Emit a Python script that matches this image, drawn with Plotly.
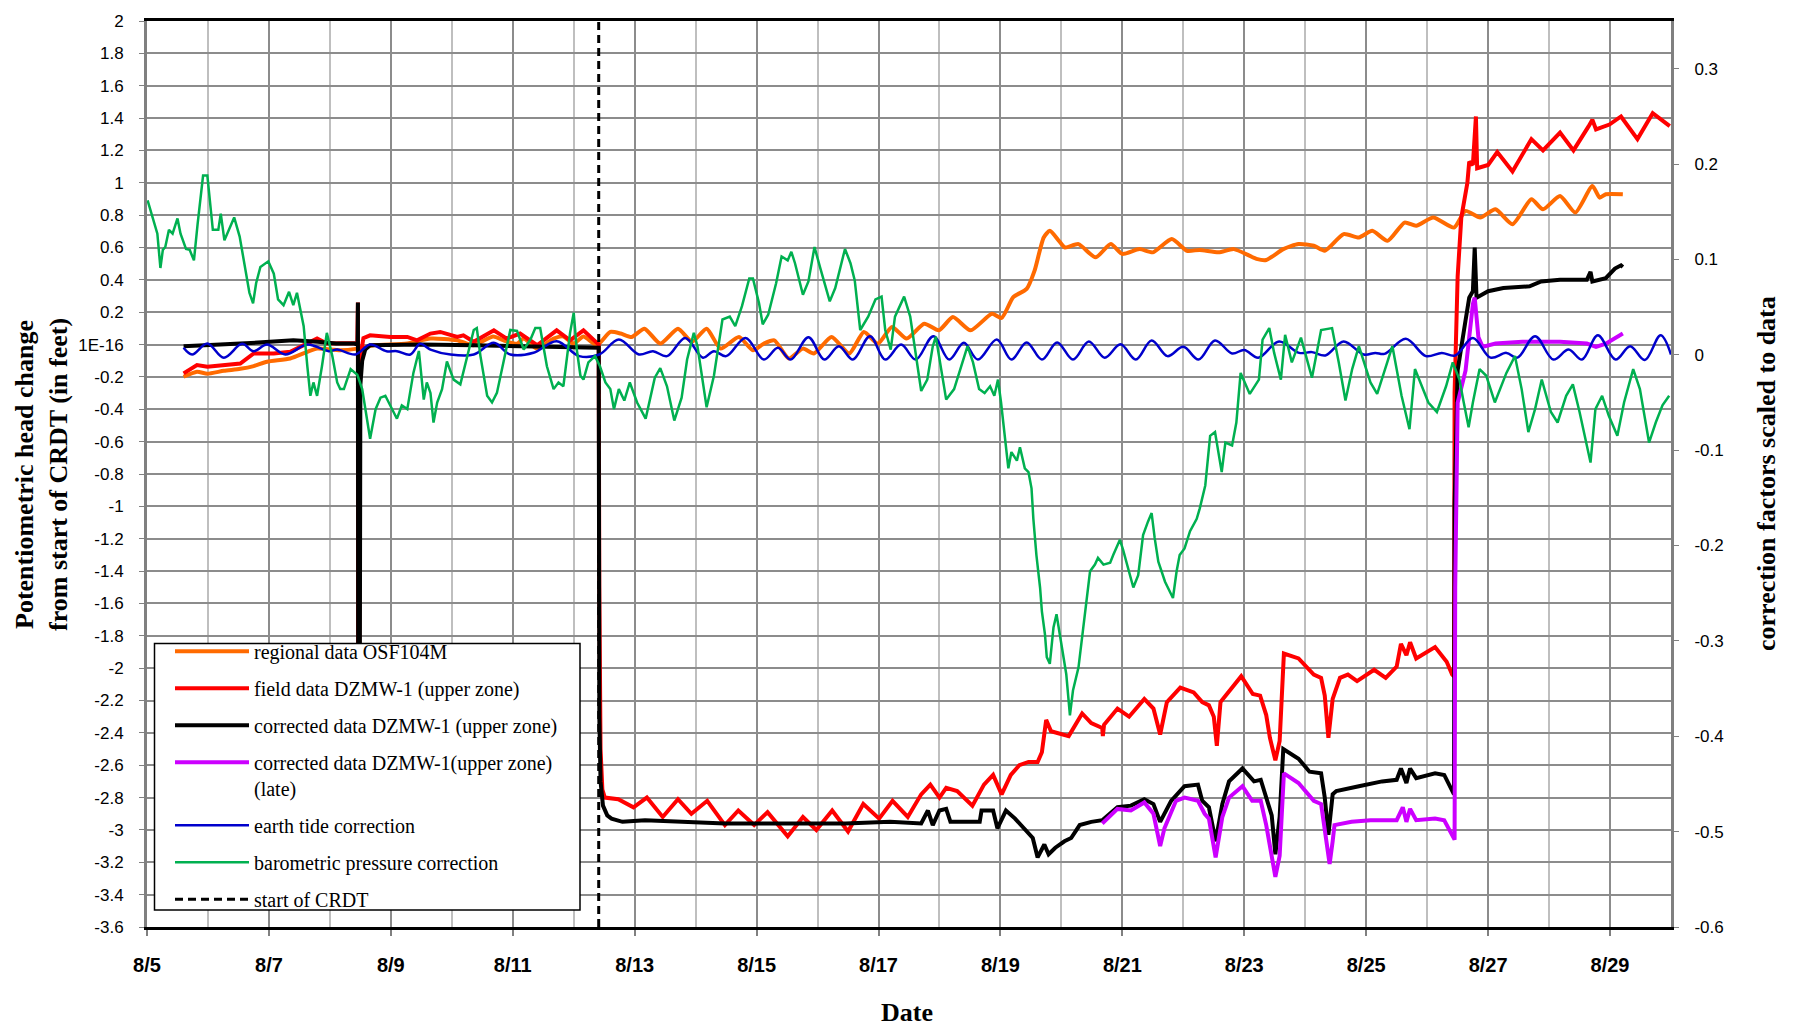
import pandas as pd
import plotly.graph_objects as go

BASE = pd.Timestamp("2011-08-05")

# ---------------- data (days since 8/5 00:00, values) ----------------
orange_days = [0.60, 0.82, 0.99, 1.26, 1.53, 1.75, 1.97, 2.35, 2.63, 2.79, 3.17, 3.45, 3.72, 4.27, 4.65,
               5.09, 5.35, 5.68, 5.85, 6.07, 6.18, 6.40, 6.67, 6.83, 7.00, 7.16, 7.38, 7.60, 7.77, 7.95,
               8.16, 8.42, 8.71, 8.94, 9.18, 9.41, 9.71, 9.94, 10.12, 10.29, 10.53, 10.76, 10.94, 11.23,
               11.52, 11.76, 11.99, 12.22, 12.46, 12.75, 12.99, 13.22, 13.51, 13.86, 14.02, 14.21, 14.43,
               14.56, 14.71, 14.81, 14.96, 15.06, 15.28, 15.56, 15.81, 16.00, 16.28, 16.50, 16.81, 17.06,
               17.27, 17.58, 17.83, 18.20, 18.36, 18.64, 18.89, 19.14, 19.32, 19.63, 19.88, 20.10, 20.35,
               20.63, 20.82, 21.10, 21.44, 21.63, 21.87, 22.12, 22.40, 22.71, 22.90, 23.18, 23.43, 23.71,
               23.83, 23.93, 24.21]
orange_vals = [-0.199, -0.168, -0.18, -0.162, -0.15, -0.133, -0.106, -0.086, -0.045, -0.025, -0.035, -0.025,
               -0.004, 0.006, 0.037, 0.026, -0.004, 0.05, 0.026, 0.006, 0.037, -0.025, 0.037, 0.05, 0.006,
               0.05, -0.004, 0.078, 0.068, 0.047, 0.098, 0.006, 0.098, 0.017, 0.098, -0.025, 0.047, -0.035,
               0.006, 0.026, -0.086, -0.025, -0.055, 0.047, -0.055, 0.078, 0.006, 0.109, 0.037, 0.129, 0.088,
               0.17, 0.088, 0.19, 0.165, 0.293, 0.344, 0.457, 0.662, 0.703, 0.641, 0.60, 0.621, 0.539, 0.621,
               0.56, 0.59, 0.57, 0.652, 0.58, 0.585, 0.57, 0.59, 0.53, 0.523, 0.59, 0.621, 0.611, 0.58, 0.683,
               0.662, 0.703, 0.641, 0.754, 0.734, 0.785, 0.723, 0.826, 0.785, 0.836, 0.744, 0.898, 0.836,
               0.918, 0.816, 0.98, 0.908, 0.929, 0.929]

red_days = [0.60, 0.82, 0.99, 1.53, 1.75, 2.08, 2.35, 2.63, 2.79, 2.95, 3.39, 3.45, 3.46, 3.463, 3.48, 3.49,
            3.55, 3.66, 3.99, 4.27, 4.43, 4.65, 4.81, 5.09, 5.19, 5.36, 5.69, 5.90, 6.12, 6.40, 6.72, 6.94,
            7.16, 7.38, 7.41, 7.42, 7.44, 7.47, 7.51, 7.73, 7.98, 8.20, 8.46, 8.71, 8.93, 9.19, 9.48, 9.70,
            9.96, 10.18, 10.51, 10.76, 10.98, 11.24, 11.50, 11.75, 12.01, 12.23, 12.48, 12.70, 12.85, 13.00,
            13.11, 13.29, 13.54, 13.73, 13.88, 14.02, 14.17, 14.31, 14.46, 14.61, 14.68, 14.75, 14.83, 15.12,
            15.34, 15.49, 15.67, 15.68, 15.70, 15.92, 16.11, 16.36, 16.51, 16.62, 16.73, 16.95, 17.17, 17.31,
            17.42, 17.50, 17.55, 17.61, 17.77, 17.95, 18.14, 18.26, 18.36, 18.42, 18.51, 18.58, 18.65, 18.89,
            19.14, 19.26, 19.32, 19.38, 19.45, 19.57, 19.70, 19.85, 20.13, 20.32, 20.50, 20.57, 20.66, 20.72,
            20.82, 21.13, 21.32, 21.41, 21.44, 21.45, 21.50, 21.56, 21.66, 21.69, 21.75, 21.80, 21.82, 22.00,
            22.15, 22.40, 22.71, 22.90, 23.18, 23.40, 23.65, 23.71, 23.77, 23.99, 24.18, 24.45, 24.70, 24.98]
red_vals = [-0.178, -0.127, -0.137, -0.117, -0.055, -0.055, -0.045, 0.006, 0.037, 0.006, 0.006, 0.01, 0.26,
            -2.4, -2.4, -0.1, 0.04, 0.057, 0.047, 0.047, 0.026, 0.068, 0.078, 0.047, 0.057, 0.017, 0.088,
            0.037, 0.068, -0.004, 0.088, 0.026, 0.088, 0.017, 0.0, -1.5, -2.5, -2.75, -2.80, -2.81, -2.86,
            -2.80, -2.92, -2.81, -2.90, -2.82, -2.97, -2.88, -2.97, -2.89, -3.04, -2.92, -3.00, -2.88, -3.01,
            -2.84, -2.93, -2.82, -2.92, -2.78, -2.72, -2.80, -2.74, -2.76, -2.85, -2.72, -2.66, -2.78, -2.66,
            -2.60, -2.58, -2.58, -2.52, -2.32, -2.39, -2.42, -2.28, -2.34, -2.37, -2.42, -2.35, -2.25, -2.30,
            -2.19, -2.25, -2.41, -2.21, -2.12, -2.15, -2.21, -2.23, -2.30, -2.48, -2.21, -2.13, -2.05, -2.16,
            -2.17, -2.29, -2.43, -2.57, -2.45, -1.91, -1.94, -2.04, -2.06, -2.17, -2.43, -2.19, -2.06, -2.04,
            -2.08, -2.01, -2.06, -1.99, -1.85, -1.92, -1.84, -1.94, -1.87, -1.96, -2.04, -2.05, -0.3, 0.42,
            0.785, 1.0, 1.13, 1.11, 1.41, 1.09, 1.11, 1.19, 1.07, 1.27, 1.20, 1.31, 1.20, 1.35, 1.39, 1.33,
            1.36, 1.41, 1.27, 1.43, 1.35]

black_days = [0.60, 0.80, 1.20, 1.53, 2.00, 2.40, 2.80, 3.10, 3.40, 3.455, 3.46, 3.465, 3.49, 3.50, 3.53,
              3.58, 3.66, 4.50, 5.36, 6.40, 7.38, 7.41, 7.42, 7.44, 7.48, 7.55, 7.62, 7.80, 8.17, 8.90, 9.48,
              10.00, 10.73, 11.46, 12.19, 12.70, 12.81, 12.89, 13.00, 13.11, 13.18, 13.66, 13.69, 13.88,
              13.95, 14.09, 14.24, 14.39, 14.53, 14.61, 14.72, 14.79, 14.90, 15.05, 15.16, 15.30, 15.49,
              15.67, 15.92, 16.14, 16.36, 16.51, 16.62, 16.80, 17.02, 17.24, 17.31, 17.42, 17.53, 17.64,
              17.75, 17.97, 18.16, 18.27, 18.36, 18.45, 18.51, 18.58, 18.64, 18.89, 19.07, 19.26, 19.32,
              19.38, 19.45, 19.51, 19.88, 20.26, 20.50, 20.57, 20.66, 20.72, 20.82, 21.13, 21.28, 21.41,
              21.44, 21.45, 21.50, 21.63, 21.69, 21.75, 21.78, 21.81, 22.00, 22.25, 22.68, 22.87, 23.18,
              23.62, 23.68, 23.71, 23.93, 24.08, 24.18, 24.21]
black_vals = [-0.01, -0.005, 0.0, 0.006, 0.02, 0.026, 0.017, 0.006, 0.006, 0.0, 0.26, -2.4, -2.3, -0.25,
              -0.1, -0.03, -0.004, 0.0, -0.004, -0.01, -0.014, -0.02, -2.3, -2.7, -2.85, -2.91, -2.93,
              -2.95, -2.94, -2.95, -2.96, -2.96, -2.96, -2.96, -2.95, -2.96, -2.88, -2.97, -2.88, -2.87,
              -2.95, -2.95, -2.88, -2.88, -2.99, -2.88, -2.93, -2.99, -3.05, -3.17, -3.09, -3.15, -3.11,
              -3.07, -3.05, -2.97, -2.95, -2.94, -2.86, -2.85, -2.81, -2.84, -2.95, -2.82, -2.73, -2.72,
              -2.82, -2.86, -3.07, -2.84, -2.70, -2.62, -2.70, -2.69, -2.80, -2.91, -3.15, -2.92, -2.50,
              -2.56, -2.64, -2.65, -2.80, -3.03, -2.78, -2.76, -2.73, -2.70, -2.69, -2.62, -2.71, -2.62,
              -2.68, -2.65, -2.66, -2.76, -2.78, -1.0, -0.16, 0.15, 0.29, 0.33, 0.60, 0.29, 0.33, 0.35,
              0.36, 0.39, 0.40, 0.40, 0.45, 0.39, 0.41, 0.47, 0.49, 0.48]

magenta_days = [15.67, 15.92, 16.14, 16.36, 16.51, 16.62, 16.69, 16.88, 17.02, 17.24, 17.35, 17.42, 17.53,
                17.64, 17.75, 17.97, 18.13, 18.27, 18.36, 18.42, 18.51, 18.58, 18.65, 18.89, 19.14, 19.26,
                19.35, 19.40, 19.45, 19.48, 19.76, 20.07, 20.50, 20.60, 20.66, 20.72, 20.82, 21.13, 21.28,
                21.45, 21.46, 21.50, 21.63, 21.75, 21.78, 21.84, 21.91, 22.12, 22.56, 23.18, 23.62, 23.77,
                23.93, 24.11, 24.21]
magenta_vals = [-2.96, -2.87, -2.88, -2.83, -2.90, -3.10, -2.99, -2.82, -2.80, -2.82, -2.90, -2.93, -3.17,
                -2.92, -2.80, -2.73, -2.82, -2.82, -2.97, -3.11, -3.29, -3.16, -2.65, -2.71, -2.82, -2.84,
                -3.07, -3.21, -3.07, -2.97, -2.95, -2.94, -2.94, -2.86, -2.95, -2.87, -2.94, -2.93, -2.94,
                -3.06, -1.5, -0.36, -0.16, 0.25, 0.29, 0.047, -0.014, 0.006, 0.017, 0.017, 0.006, -0.014,
                0.006, 0.047, 0.068]

# earth tide correction (right axis)
blue_days = [0.60, 0.74, 0.99, 1.26, 1.56, 1.75, 1.97, 2.27, 2.63, 2.98, 3.12, 3.42, 3.66, 3.93, 4.10, 4.32,
             4.48, 4.65, 4.98, 5.36, 5.69, 5.96, 6.34, 6.72, 7.09, 7.42, 7.74, 8.07, 8.30, 8.53, 8.83, 9.12,
             9.30, 9.50, 9.82, 10.12, 10.35, 10.56, 10.85, 11.11, 11.35, 11.58, 11.86, 12.11, 12.37, 12.61,
             12.90, 13.16, 13.40, 13.63, 13.94, 14.18, 14.43, 14.68, 14.93, 15.19, 15.45, 15.71, 15.97, 16.22,
             16.48, 16.74, 17.00, 17.25, 17.52, 17.80, 18.00, 18.23, 18.57, 18.90, 19.11, 19.33, 19.63, 19.96,
             20.15, 20.30, 20.65, 20.98, 21.24, 21.46, 21.75, 22.04, 22.30, 22.48, 22.77, 23.07, 23.32, 23.54,
             23.80, 24.09, 24.33, 24.57, 24.83, 25.00]
blue_vals = [0.0073, 0.0003, 0.0118, -0.003, 0.0115, 0.0038, 0.0107, 0.0003, 0.0107, 0.0038, 0.0055, 0.0003,
             0.0107, 0.0038, 0.0038, 0.0003, 0.0115, 0.0055, 0.0003, 0.0003, 0.0125, 0.0003, 0.0021, 0.0143,
             -0.0014, 0.0003, 0.016, 0.0003, 0.0038, -0.0014, 0.0177, -0.003, 0.0038, -0.0014, 0.0177, -0.005,
             0.0073, -0.005, 0.0184, -0.005, 0.009, -0.005, 0.0195, -0.005, 0.0107, -0.005, 0.0195, -0.005,
             0.0125, -0.005, 0.016, -0.005, 0.013, -0.005, 0.013, -0.005, 0.014, -0.003, 0.011, -0.005,
             0.015, -0.0014, 0.0083, -0.005, 0.015, 0.0014, 0.005, -0.003, 0.014, 0.002, 0.0028, -0.0007,
             0.014, 0.0003, 0.002, 0.001, 0.0167, -0.0014, 0.002, -0.0007, 0.0177, -0.003, 0.002, -0.003,
             0.0195, -0.005, 0.0055, -0.005, 0.0205, -0.005, 0.009, -0.0055, 0.0205, 0.0003]

# barometric pressure correction (right axis)
green_days = [0.01, 0.11, 0.17, 0.22, 0.26, 0.30, 0.36, 0.42, 0.50, 0.55, 0.64, 0.70, 0.77, 0.83, 0.92, 0.99,
              1.08, 1.17, 1.21, 1.27, 1.43, 1.52, 1.61, 1.68, 1.74, 1.79, 1.86, 1.99, 2.08, 2.15, 2.24, 2.33,
              2.40, 2.46, 2.52, 2.57, 2.63, 2.68, 2.73, 2.79, 2.87, 2.95, 3.04, 3.12, 3.17, 3.23, 3.34, 3.45,
              3.53, 3.66, 3.75, 3.83, 3.91, 3.99, 4.10, 4.18, 4.27, 4.37, 4.46, 4.54, 4.59, 4.65, 4.70, 4.76,
              4.84, 4.92, 5.03, 5.14, 5.25, 5.36, 5.41, 5.47, 5.58, 5.66, 5.74, 5.85, 5.96, 6.07, 6.18, 6.29,
              6.37, 6.45, 6.56, 6.67, 6.75, 6.83, 6.94, 7.00, 7.05, 7.11, 7.16, 7.24, 7.35, 7.43, 7.52, 7.60,
              7.66, 7.74, 7.83, 7.92, 8.04, 8.18, 8.33, 8.42, 8.53, 8.65, 8.77, 8.86, 8.97, 9.03, 9.18, 9.30,
              9.44, 9.56, 9.65, 9.76, 9.88, 9.94, 10.04, 10.10, 10.19, 10.32, 10.41, 10.51, 10.57, 10.63,
              10.76, 10.85, 10.95, 11.04, 11.20, 11.29, 11.45, 11.54, 11.61, 11.70, 11.83, 11.95, 12.05,
              12.11, 12.20, 12.27, 12.42, 12.52, 12.64, 12.70, 12.80, 12.89, 12.94, 13.05, 13.11, 13.24,
              13.36, 13.46, 13.55, 13.65, 13.74, 13.83, 13.90, 13.96, 14.01, 14.05, 14.07, 14.13, 14.18,
              14.27, 14.32, 14.40, 14.46, 14.51, 14.54, 14.59, 14.65, 14.68, 14.73, 14.76, 14.81, 14.87,
              14.92, 14.97, 15.03, 15.08, 15.14, 15.19, 15.28, 15.33, 15.39, 15.47, 15.55, 15.60, 15.69,
              15.80, 15.85, 15.96, 16.01, 16.09, 16.18, 16.26, 16.34, 16.42, 16.48, 16.53, 16.59, 16.70,
              16.78, 16.83, 16.89, 16.94, 17.02, 17.11, 17.22, 17.27, 17.36, 17.44, 17.52, 17.57, 17.63,
              17.69, 17.80, 17.87, 17.94, 18.09, 18.24, 18.30, 18.41, 18.49, 18.60, 18.67, 18.78, 18.93,
              19.11, 19.26, 19.44, 19.55, 19.66, 19.77, 19.88, 20.07, 20.18, 20.29, 20.43, 20.58, 20.65,
              20.71, 20.80, 20.91, 21.02, 21.16, 21.31, 21.42, 21.53, 21.60, 21.68, 21.75, 21.86, 21.97,
              22.11, 22.30, 22.44, 22.55, 22.66, 22.77, 22.88, 23.03, 23.14, 23.28, 23.39, 23.50, 23.61,
              23.68, 23.76, 23.87, 23.98, 24.12, 24.23, 24.38, 24.49, 24.64, 24.75, 24.86, 24.97]
green_vals = [0.162, 0.141, 0.127, 0.091, 0.110, 0.113, 0.131, 0.127, 0.143, 0.127, 0.111, 0.110, 0.099, 0.137,
              0.188, 0.188, 0.131, 0.131, 0.148, 0.120, 0.144, 0.124, 0.092, 0.065, 0.054, 0.075, 0.092, 0.098,
              0.085, 0.058, 0.052, 0.066, 0.052, 0.065, 0.046, 0.030, -0.012, -0.043, -0.029, -0.043, -0.012,
              0.023, -0.0014, -0.029, -0.036, -0.036, -0.015, -0.021, -0.036, -0.088, -0.057, -0.045, -0.043,
              -0.053, -0.067, -0.053, -0.057, -0.019, 0.004, -0.047, -0.029, -0.040, -0.071, -0.050, -0.036,
              -0.007, -0.026, -0.031, -0.0014, 0.026, 0.028, -0.0014, -0.043, -0.050, -0.040, -0.005, 0.026,
              0.025, 0.0055, 0.016, 0.028, 0.028, -0.012, -0.036, -0.029, -0.033, 0.023, 0.044, 0.0055,
              -0.022, -0.026, -0.008, -0.0014, -0.012, -0.029, -0.036, -0.057, -0.036, -0.048, -0.029, -0.050,
              -0.067, -0.024, -0.014, -0.033, -0.069, -0.045, -0.005, 0.023, 0.009, -0.055, -0.022, 0.037,
              0.040, 0.030, 0.051, 0.080, 0.080, 0.054, 0.032, 0.042, 0.075, 0.103, 0.099, 0.108, 0.096,
              0.063, 0.077, 0.113, 0.092, 0.056, 0.070, 0.111, 0.096, 0.078, 0.026, 0.040, 0.058, 0.061,
              0.026, 0.0055, 0.040, 0.061, 0.040, -0.012, -0.038, -0.026, 0.009, 0.019, -0.026, -0.047,
              -0.036, -0.012, 0.009, -0.008, -0.036, -0.040, -0.033, -0.043, -0.026, -0.050, -0.071, -0.088,
              -0.119, -0.102, -0.111, -0.097, -0.119, -0.123, -0.140, -0.172, -0.210, -0.244, -0.269, -0.293,
              -0.317, -0.324, -0.286, -0.272, -0.291, -0.314, -0.335, -0.378, -0.352, -0.328, -0.300, -0.265,
              -0.227, -0.220, -0.213, -0.220, -0.218, -0.210, -0.194, -0.204, -0.222, -0.244, -0.231, -0.189,
              -0.175, -0.166, -0.192, -0.217, -0.238, -0.248, -0.255, -0.227, -0.210, -0.203, -0.185, -0.172,
              -0.161, -0.137, -0.085, -0.081, -0.102, -0.123, -0.092, -0.095, -0.071, -0.019, -0.041, -0.026,
              0.016, 0.028, 0.002, -0.026, 0.021, -0.008, 0.018, -0.024, 0.026, 0.028, -0.008, -0.048, -0.015,
              0.009, -0.029, -0.041, -0.019, 0.009, -0.043, -0.062, -0.078, -0.015, -0.033, -0.050, -0.060,
              -0.033, -0.008, -0.026, -0.050, -0.076, -0.050, -0.015, -0.022, -0.050, -0.019, -0.0014, -0.036,
              -0.081, -0.057, -0.026, -0.060, -0.071, -0.043, -0.031, -0.060, -0.092, -0.113, -0.057, -0.043,
              -0.064, -0.085, -0.050, -0.015, -0.036, -0.092, -0.071, -0.053, -0.043]

crdt_start_day = 7.41
crdt_line_vals = [-3.6, 2.0]

series_names = ["regional data OSF104M",
                "field data DZMW-1 (upper zone)",
                "corrected data DZMW-1 (upper zone)",
                "corrected data DZMW-1(upper zone)<br>(late)",
                "earth tide correction",
                "barometric pressure correction",
                "start of CRDT"]

left_tick_vals = [round(-3.6 + 0.2 * i, 1) for i in range(29)]
left_tick_text = ["1E-16" if abs(v) < 1e-9 else ("%g" % v) for v in left_tick_vals]
right_tick_vals = [-0.6, -0.5, -0.4, -0.3, -0.2, -0.1, 0.0, 0.1, 0.2, 0.3]
right_tick_text = ["-0.6", "-0.5", "-0.4", "-0.3", "-0.2", "-0.1", "0", "0.1", "0.2", "0.3"]


def to_dt(days):
    return BASE + pd.to_timedelta(pd.Series(days, dtype=float), unit="D")


fig = go.Figure()

fig.add_trace(go.Scatter(x=to_dt(orange_days), y=orange_vals, mode="lines", name=series_names[0],
                         line=dict(color="#FF6A00", width=4, shape="spline", smoothing=0.6),
                         legendgroup="g1"))
fig.add_trace(go.Scatter(x=to_dt(red_days), y=red_vals, mode="lines", name=series_names[1],
                         line=dict(color="#FF0000", width=4), legendgroup="g2"))
fig.add_trace(go.Scatter(x=to_dt(black_days), y=black_vals, mode="lines", name=series_names[2],
                         line=dict(color="#000000", width=4), legendgroup="g3"))
fig.add_trace(go.Scatter(x=to_dt(magenta_days), y=magenta_vals, mode="lines", name=series_names[3],
                         line=dict(color="#CC00FF", width=4), legendgroup="g4"))
fig.add_trace(go.Scatter(x=to_dt(blue_days), y=blue_vals, mode="lines", name=series_names[4], yaxis="y2",
                         line=dict(color="#0000CC", width=2.5, shape="spline", smoothing=1.0),
                         legendgroup="g5"))
fig.add_trace(go.Scatter(x=to_dt(green_days), y=green_vals, mode="lines", name=series_names[5], yaxis="y2",
                         line=dict(color="#00B050", width=2.5), legendgroup="g6"))
fig.add_trace(go.Scatter(x=to_dt([crdt_start_day, crdt_start_day]), y=crdt_line_vals, mode="lines",
                         name=series_names[6], line=dict(color="#000000", width=3, dash="8px,5px"),
                         legendgroup="g7"))

grid_major = "#8C8C8C"
grid_minor = "#BFBFBF"

PL, PR, PT, PB = 147, 124, 16, 100
W, H = 1795, 1027
plot_w = W - PL - PR
plot_h = H - PT - PB


def px_x(x):
    return (x - PL) / plot_w


def px_y(y):
    return (H - PB - y) / plot_h


fig.update_layout(
    width=W, height=H,
    margin=dict(l=PL, r=PR, t=PT, b=PB),
    paper_bgcolor="white", plot_bgcolor="white",
    showlegend=True,
    legend=dict(x=px_x(170), y=px_y(630), xanchor="left", yanchor="top",
                bgcolor="rgba(0,0,0,0)", borderwidth=0,
                font=dict(family="Liberation Serif", size=20, color="black"),
                tracegroupgap=8, itemwidth=74, valign="top", traceorder="grouped"),
    xaxis=dict(type="date", range=[BASE, BASE + pd.Timedelta(days=25)],
               tick0=BASE, dtick=2 * 86400000, tickformat="%-m/%-d",
               showgrid=True, gridcolor=grid_major, gridwidth=2,
               minor=dict(dtick=86400000, tick0=BASE, showgrid=True, gridcolor=grid_minor, gridwidth=2),
               ticks="outside", ticklen=6, tickcolor="#808080", tickwidth=1.5,
               showline=True, linecolor="black", linewidth=3, mirror=True,
               zeroline=False,
               tickfont=dict(family="Liberation Sans", size=20, color="black", weight="bold"),
               ticklabelstandoff=12),
    yaxis=dict(range=[-3.6, 2.0], tickvals=left_tick_vals, ticktext=left_tick_text,
               showgrid=True, gridcolor=grid_major, gridwidth=2,
               ticks="outside", ticklen=5, tickcolor="#808080",
               showline=True, linecolor="#808080", linewidth=3, zeroline=False,
               tickfont=dict(family="Liberation Sans", size=17, color="black"),
               ticklabelstandoff=12),
    yaxis2=dict(range=[-0.6, 0.35], overlaying="y", side="right",
                tickvals=right_tick_vals, ticktext=right_tick_text,
                showgrid=False, ticks="outside", ticklen=5, tickcolor="#808080",
                showline=True, linecolor="#808080", linewidth=3, zeroline=False,
                tickfont=dict(family="Liberation Sans", size=17, color="black"),
                ticklabelstandoff=12),
    shapes=[dict(type="rect", xref="paper", yref="paper",
                 x0=px_x(154.5), x1=px_x(580), y0=px_y(910), y1=px_y(642),
                 fillcolor="white", line=dict(color="black", width=1.5), layer="above")],
    annotations=[
        dict(text="<b>Potentiometric head change<br>from start of CRDT (in feet)</b>",
             xref="paper", yref="paper", x=px_x(41), y=0.5, xanchor="center", yanchor="middle",
             textangle=-90, showarrow=False,
             font=dict(family="Liberation Serif", size=26, color="black")),
        dict(text="<b>correction factors scaled to data</b>",
             xref="paper", yref="paper", x=px_x(1766), y=0.5, xanchor="center", yanchor="middle",
             textangle=-90, showarrow=False,
             font=dict(family="Liberation Serif", size=26, color="black")),
        dict(text="<b>Date</b>", xref="paper", yref="paper", x=px_x(907), y=px_y(1013),
             xanchor="center", yanchor="middle", showarrow=False,
             font=dict(family="Liberation Serif", size=26, color="black")),
    ],
)

fig.write_html("out.html", config={"displayModeBar": False},
               post_script="document.body.style.margin='0px';document.body.style.overflow='hidden';")
